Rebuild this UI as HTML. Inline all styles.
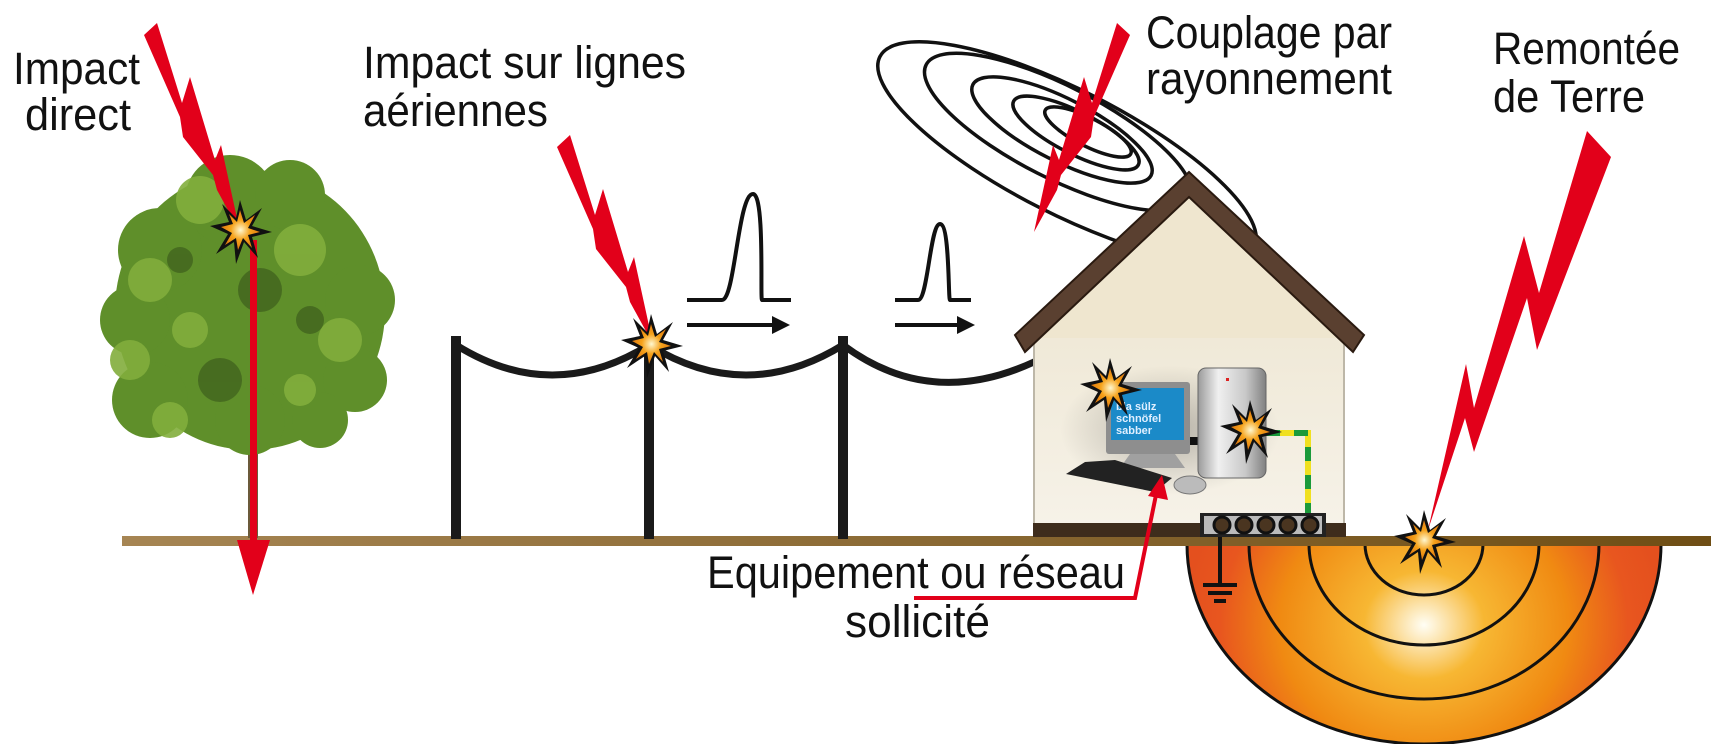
<!DOCTYPE html>
<html><head><meta charset="utf-8"><style>
html,body{margin:0;padding:0;background:#fff}
svg{display:block}
text{font-family:"Liberation Sans Narrow","Liberation Sans",sans-serif;font-size:45px;fill:#111}
</style></head><body>
<svg width="1711" height="744" viewBox="0 0 1711 744" xmlns="http://www.w3.org/2000/svg">
<defs>
<radialGradient id="earth" cx="1424" cy="625" r="240" gradientUnits="userSpaceOnUse" gradientTransform="translate(1424 625) scale(1 0.9) translate(-1424 -625)">
<stop offset="0" stop-color="#fffef5"/><stop offset="0.25" stop-color="#f7b733"/><stop offset="0.6" stop-color="#f08a12"/><stop offset="0.85" stop-color="#e8561f"/><stop offset="1" stop-color="#e4501e"/></radialGradient>
<linearGradient id="gnd" x1="0" x2="1"><stop offset="0" stop-color="#a68553"/><stop offset="1" stop-color="#6f4e15"/></linearGradient>
<radialGradient id="starf"><stop offset="0" stop-color="#fff8d0"/><stop offset="0.5" stop-color="#f6a21a"/><stop offset="1" stop-color="#e07a10"/></radialGradient>
<linearGradient id="wall" x1="0" x2="0" y1="0" y2="1"><stop offset="0" stop-color="#efe8d6"/><stop offset="1" stop-color="#f6f2e8"/></linearGradient>
<linearGradient id="tower" x1="0" x2="1"><stop offset="0" stop-color="#9a9a9a"/><stop offset="0.3" stop-color="#f0f0f0"/><stop offset="0.7" stop-color="#c8c8c8"/><stop offset="1" stop-color="#808080"/></linearGradient>
<radialGradient id="shadow"><stop offset="0" stop-color="#000" stop-opacity="0.25"/><stop offset="1" stop-color="#000" stop-opacity="0"/></radialGradient>
<g id="star"><polygon points="0,-30 6,-10 22,-22 12,-4 32,2 12,7 18,28 4,12 -4,34 -6,12 -24,24 -12,4 -30,-4 -11,-8 -18,-26 -4,-12" fill="#111"/><polygon points="0,-20 4,-7 15,-15 8,-2 20,2 8,5 12,18 3,8 -2,20 -4,8 -15,15 -8,3 -19,-3 -7,-6 -11,-16 -3,-8" fill="url(#starf)"/></g>
<polygon id="bolt" points="144,35 157,23 182,103 190,77 215,160 221,145 240,232 217,190 213,175 183,137 180,117" fill="#e2001a"/>
</defs>

<!-- earth -->
<path d="M1187,544 A237,200 0 0 0 1661,544 Z" fill="url(#earth)" stroke="#111" stroke-width="3"/>
<path d="M1365,544 A59,51 0 0 0 1483,544" fill="none" stroke="#111" stroke-width="3"/>
<path d="M1309,544 A115,101 0 0 0 1539,544" fill="none" stroke="#111" stroke-width="3"/>
<path d="M1249,544 A175,155 0 0 0 1599,544" fill="none" stroke="#111" stroke-width="3"/>

<!-- ground -->
<rect x="122" y="536" width="1589" height="10" fill="url(#gnd)"/>

<!-- tree -->
<rect x="248" y="420" width="10" height="118" fill="#6b5a3a"/>
<g fill="#5f8f2a">
<ellipse cx="250" cy="310" rx="135" ry="140"/>
<circle cx="230" cy="200" r="45"/><circle cx="290" cy="195" r="35"/><circle cx="160" cy="250" r="42"/>
<circle cx="135" cy="320" r="35"/><circle cx="360" cy="300" r="35"/><circle cx="355" cy="380" r="32"/>
<circle cx="150" cy="400" r="38"/><circle cx="250" cy="420" r="35"/><circle cx="320" cy="420" r="28"/>
</g>
<g fill="#82ae3c" opacity="0.9">
<circle cx="200" cy="200" r="24"/><circle cx="150" cy="280" r="22"/><circle cx="130" cy="360" r="20"/><circle cx="300" cy="250" r="26"/><circle cx="340" cy="340" r="22"/><circle cx="190" cy="330" r="18"/><circle cx="170" cy="420" r="18"/><circle cx="300" cy="390" r="16"/>
</g>
<g fill="#3d5e1c" opacity="0.7">
<circle cx="260" cy="290" r="22"/><circle cx="220" cy="380" r="22"/><circle cx="310" cy="320" r="14"/><circle cx="180" cy="260" r="13"/>
</g>
<rect x="250" y="240" width="7" height="310" fill="#e2001a"/>
<polygon points="237,540 270,540 253,595" fill="#e2001a"/>
<use href="#bolt"/>
<use href="#star" transform="translate(240,230)"/>

<!-- poles and wires -->
<g fill="#1a1a1a"><rect x="451" y="336" width="10" height="203"/><rect x="644" y="336" width="10" height="203"/><rect x="838" y="336" width="10" height="203"/></g>
<g fill="none" stroke="#1a1a1a" stroke-width="7">
<path d="M456,345 Q552,405 649,345"/><path d="M649,345 Q746,405 843,345"/>
<path d="M843,345 Q930,410 1034,362 L1073,362 L1073,443 L1112,443"/>
</g>
<use href="#bolt" transform="translate(413,112)"/>
<use href="#star" transform="translate(651,344)"/>

<!-- pulses -->
<g fill="none" stroke="#111" stroke-width="4">
<path d="M687,300 H722 C735,300 738,194 753,194 C765,194 760,300 762,300 H791"/>
<path d="M895,300 H918 C928,300 930,224 940,224 C950,224 948,300 950,300 H971"/>
<path d="M687,325 H775"/><path d="M895,325 H960"/>
</g>
<polygon points="772,316 790,325 772,334" fill="#111"/>
<polygon points="957,316 975,325 957,334" fill="#111"/>

<!-- ellipses -->
<g fill="none" stroke="#111" stroke-width="3.5">
<ellipse cx="1067" cy="152" rx="210" ry="62" transform="rotate(27 1067 152)"/>
<ellipse cx="1058" cy="132" rx="148" ry="46" transform="rotate(27 1058 132)"/>
<ellipse cx="1062" cy="130" rx="100" ry="31" transform="rotate(27 1062 130)"/>
<ellipse cx="1076" cy="133" rx="70" ry="21" transform="rotate(27 1076 133)"/>
<ellipse cx="1088" cy="132" rx="48" ry="14" transform="rotate(27 1088 132)"/>
</g>
<use href="#bolt" transform="translate(1274,0) scale(-1,1)"/>

<!-- house -->
<rect x="1034" y="320" width="310" height="205" fill="url(#wall)" stroke="#bdb7a8" stroke-width="2"/>
<polygon points="1189,190 1034,338 1344,338" fill="#efe6cf"/>
<polygon points="1189,172 1015,335 1025,352 1189,197 1353,352 1364,335" fill="#5a4030" stroke="#2a1a10" stroke-width="2"/>
<rect x="1033" y="523" width="313" height="14" fill="#3e2c1c"/>
<ellipse cx="1170" cy="430" rx="110" ry="65" fill="url(#shadow)"/>
<rect x="1106" y="382" width="84" height="72" rx="3" fill="#8e8e8e"/>
<rect x="1111" y="388" width="73" height="52" fill="#1b8ac8"/>
<text x="1116" y="410" style="font-size:11px;fill:#dfefff;font-family:'Liberation Sans',sans-serif;font-weight:bold">bla sülz</text>
<text x="1116" y="422" style="font-size:11px;fill:#dfefff;font-family:'Liberation Sans',sans-serif;font-weight:bold">schnöfel</text>
<text x="1116" y="434" style="font-size:11px;fill:#dfefff;font-family:'Liberation Sans',sans-serif;font-weight:bold">sabber</text>
<polygon points="1130,454 1175,454 1185,468 1120,468" fill="#a0a0a0"/>
<rect x="1190" y="437" width="10" height="8" fill="#111"/>
<rect x="1198" y="368" width="68" height="110" rx="8" fill="url(#tower)" stroke="#666" stroke-width="1"/>
<rect x="1226" y="378" width="3" height="3" fill="#d22"/>
<polygon points="1085,462 1115,460 1172,478 1155,492 1066,474" fill="#222"/>
<ellipse cx="1190" cy="485" rx="16" ry="9" fill="#bbb" stroke="#777"/>
<path d="M1266,433 H1308 V513" fill="none" stroke="#f0e020" stroke-width="6"/>
<path d="M1266,433 H1308 V513" fill="none" stroke="#1a9a3a" stroke-width="6" stroke-dasharray="14 14"/>
<use href="#star" transform="translate(1110,388)"/>
<use href="#star" transform="translate(1250,430)"/>
<rect x="1200" y="513" width="126" height="24" fill="#222"/>
<rect x="1204" y="516" width="118" height="18" fill="#bbb"/>
<g fill="#4a3520" stroke="#111" stroke-width="3"><circle cx="1222" cy="525" r="8"/><circle cx="1244" cy="525" r="8"/><circle cx="1266" cy="525" r="8"/><circle cx="1288" cy="525" r="8"/><circle cx="1310" cy="525" r="8"/></g>
<path d="M1220,537 V585 M1203,585 H1237 M1208,593 H1232 M1214,601 H1226" stroke="#111" stroke-width="4" fill="none"/>

<polygon points="1587,131 1611,157 1537,350 1527,298 1474,452 1465,418 1428,530 1466,364 1474,408 1524,236 1539,293" fill="#e2001a"/>
<use href="#star" transform="translate(1424,540)"/>

<path d="M914,598 H1135 L1157,490" fill="none" stroke="#e2001a" stroke-width="4"/>
<polygon points="1148,496 1168,500 1162,475" fill="#e2001a"/>

<text x="13" y="84" textLength="127" lengthAdjust="spacingAndGlyphs">Impact</text>
<text x="25" y="130" textLength="106" lengthAdjust="spacingAndGlyphs">direct</text>
<text x="363" y="78" textLength="323" lengthAdjust="spacingAndGlyphs">Impact sur lignes</text>
<text x="363" y="126" textLength="185" lengthAdjust="spacingAndGlyphs">aériennes</text>
<text x="1146" y="48" textLength="246" lengthAdjust="spacingAndGlyphs">Couplage par</text>
<text x="1146" y="94" textLength="246" lengthAdjust="spacingAndGlyphs">rayonnement</text>
<text x="1493" y="64" textLength="187" lengthAdjust="spacingAndGlyphs">Remontée</text>
<text x="1493" y="112" textLength="152" lengthAdjust="spacingAndGlyphs">de Terre</text>
<text x="707" y="588" textLength="418" lengthAdjust="spacingAndGlyphs">Equipement ou réseau</text>
<text x="845" y="637" textLength="145" lengthAdjust="spacingAndGlyphs">sollicité</text>
</svg>
</body></html>
